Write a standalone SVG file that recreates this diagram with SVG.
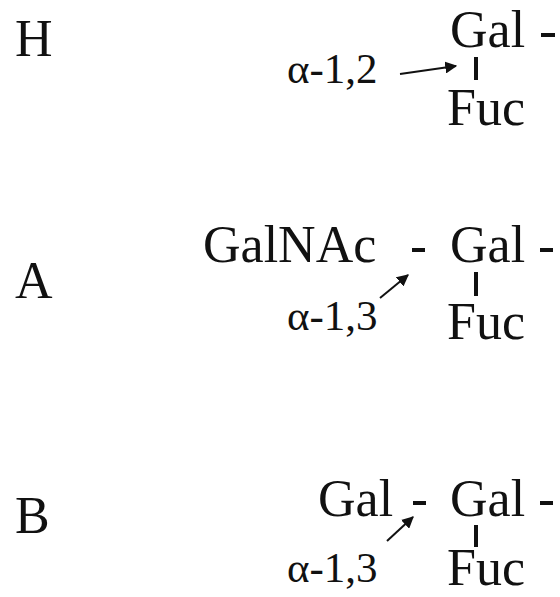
<svg xmlns="http://www.w3.org/2000/svg" width="560" height="597" viewBox="0 0 560 597">
<defs>
<style>
text{font-family:"Liberation Serif","Times New Roman",serif;fill:#111;}
.big{font-size:52px;}
.sm{font-size:43px;}
.bond{stroke:#111;stroke-width:4;}
.arr{stroke:#111;stroke-width:2;fill:none;marker-end:url(#ah);}
</style>
<marker id="ah" viewBox="0 0 10 10" refX="9" refY="5" markerWidth="6" markerHeight="6" orient="auto" markerUnits="strokeWidth">
<path d="M0,0 L10,5 L0,10 z" fill="#111"/>
</marker>
</defs>
<rect width="560" height="597" fill="#fff"/>
<g id="H">
<text class="big" x="15" y="56">H</text>
<text class="big" x="450" y="47">Gal</text>
<text class="big" x="447" y="125">Fuc</text>
<text class="sm" x="287" y="83">α-1,2</text>
</g>
<g id="A">
<text class="big" x="15" y="298">A</text>
<text class="big" x="203" y="262">GalNAc</text>
<text class="big" x="450" y="262">Gal</text>
<text class="big" x="447" y="339">Fuc</text>
<text class="sm" x="287" y="330">α-1,3</text>
</g>
<g id="B">
<text class="big" x="15" y="533">B</text>
<text class="big" x="318" y="516">Gal</text>
<text class="big" x="450" y="516">Gal</text>
<text class="big" x="447" y="585">Fuc</text>
<text class="sm" x="287" y="582">α-1,3</text>
</g>
<g id="connectors">
<line class="bond" x1="541" y1="35" x2="555" y2="35"/>
<line class="bond" x1="476" y1="57" x2="476" y2="80"/>
<line class="arr" x1="400" y1="74" x2="456" y2="66"/>
<line class="bond" x1="412" y1="250" x2="425" y2="250"/>
<line class="bond" x1="540" y1="250" x2="553" y2="250"/>
<line class="bond" x1="476" y1="272" x2="476" y2="296"/>
<line class="arr" x1="380" y1="298" x2="408" y2="275"/>
<line class="bond" x1="413" y1="503" x2="426" y2="503"/>
<line class="bond" x1="540" y1="503" x2="553" y2="503"/>
<line class="bond" x1="476" y1="525" x2="476" y2="547"/>
<line class="arr" x1="387" y1="541" x2="413" y2="517"/>
</g>
</svg>
